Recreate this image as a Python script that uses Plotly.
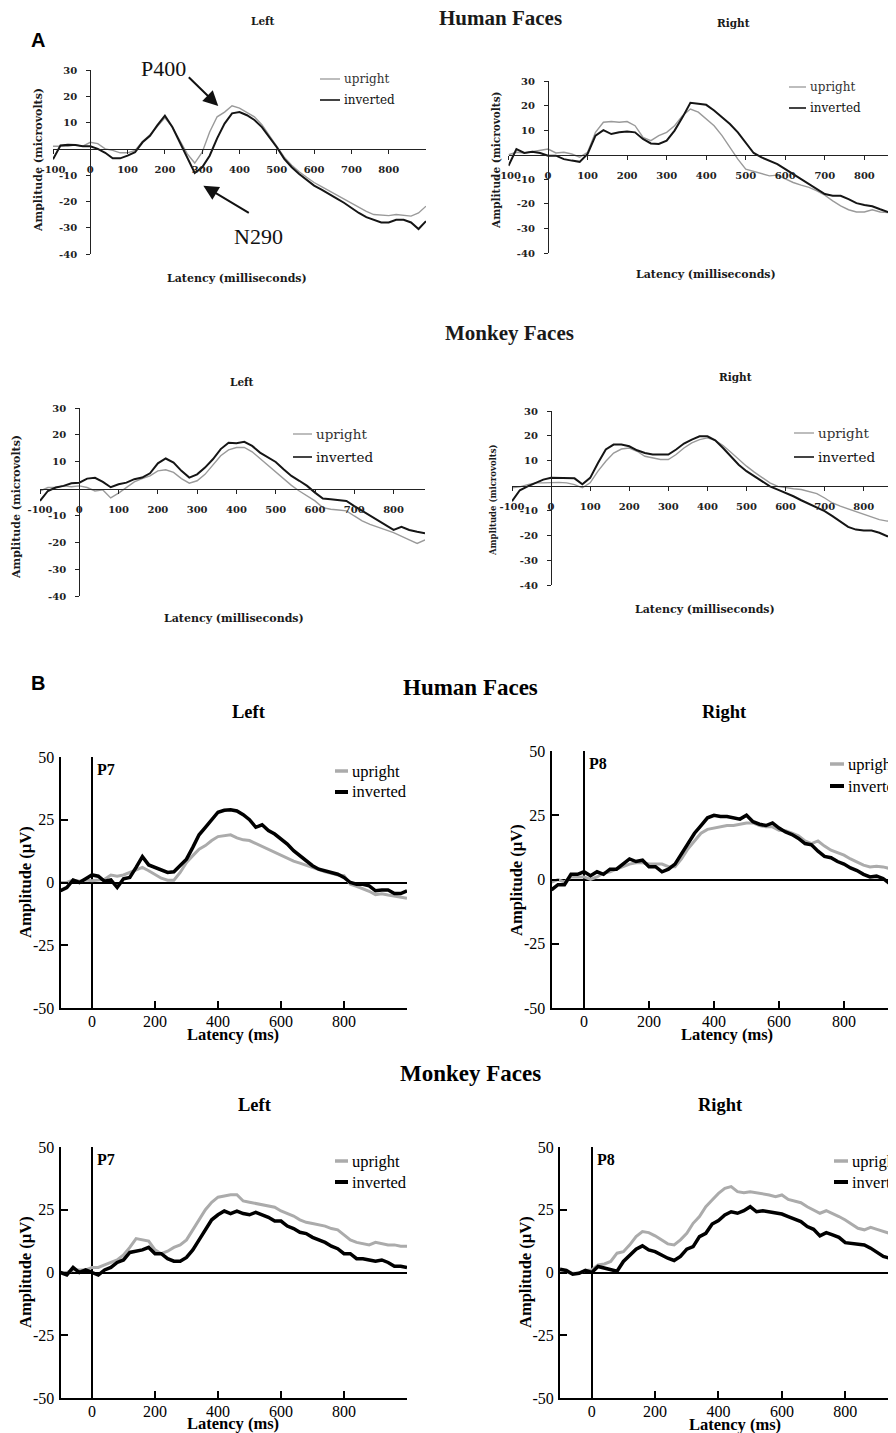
import plotly.graph_objects as go

W, H = 896, 1433
OFF = 8  # the page body adds an 8 px margin around the figure

# ---------------- data (latency in ms, amplitude in microvolts) ----------------
LAT_A_HL = list(range(-100, 901, 20))
LAT_A = list(range(-100, 881, 20))
LAT_B_L = list(range(-100, 1001, 20))
LAT_B_R = list(range(-100, 961, 20))

A_HUMAN_LEFT_UPRIGHT = [1, 1, 1, 1.5, 1, 2.5, 2, 0, -0.6, -1.5,
                        -1.5, -0.6, 2.8, 5.4, 8.6, 11.8, 8.3, 3.2, -1.9, -5.4,
                        -1.3, 6.4, 12.2, 14, 16.4, 15.5, 14, 12.2, 9.2, 5,
                        1.3, -3.2, -6.2, -8.7, -10.8, -12.8, -14.4, -16, -17.6, -19.2,
                        -20.8, -22.4, -23.8, -25, -25.2, -25.4, -25, -25.4, -25.6, -24.4,
                        -21.8]
A_HUMAN_LEFT_INVERTED = [-4, 1.3, 1.6, 1.5, 1, 1, 0, -1.5, -3.6, -3.6,
                         -2.6, -1.3, 2.5, 5, 9, 12.6, 8.3, 2.5, -3.8, -9.2,
                         -7, -2.6, 4, 9.6, 13.5, 14, 12.8, 11, 8.3, 4.5,
                         0.6, -3.8, -7, -9.6, -11.8, -14, -15.5, -17, -18.8, -20.5,
                         -22.5, -24.4, -26, -27, -28, -28, -27, -27, -28, -30.5,
                         -27.5]
A_HUMAN_RIGHT_UPRIGHT = [0, 1, 0.7, 1.2, 1.6, 2.3, 0.7, 1, 0.3, -1,
                         1, 9.1, 13.2, 13.5, 13.2, 13.5, 11.8, 7.1, 5.7, 7.8,
                         9.1, 11.8, 15.9, 18.6, 17.3, 14.6, 11.8, 7.8, 3, -1.8,
                         -5.9, -6.9, -7.9, -8.6, -8.3, -9.9, -11.3, -12.4, -13.3, -14.7,
                         -16.5, -18.8, -20.8, -22.4, -23.3, -23.3, -22.4, -23.3, -23.5, -24.9]
A_HUMAN_RIGHT_INVERTED = [-4.5, 2.3, 0.7, 1.2, 0.7, -0.4, -0.4, -1.8, -2.4, -2.9,
                          0.3, 7.8, 10, 8.4, 9.1, 9.4, 9.1, 6.4, 4.6, 4.4,
                          5.7, 9.8, 15.2, 21.1, 20.7, 20.3, 18, 15.2, 12.5, 9.1,
                          5, 0.7, -1.1, -2.4, -3.8, -5.9, -7.9, -9.9, -12, -14,
                          -16, -16.7, -16.7, -18.1, -19.7, -20.5, -21, -22.2, -23.3, -23.8]
A_MONKEY_LEFT_UPRIGHT = [-0.9, 0.4, 0.4, 1, 0.7, 1, 0.4, -0.9, -0.5, -3.5,
                         -1.7, 0.4, 2.5, 3.7, 4.7, 6.6, 7, 6, 3.7, 2,
                         2.9, 5.3, 8.7, 12.2, 14.4, 15.3, 15.3, 13.7, 11.2, 8.7,
                         6, 3.5, 1.2, -0.9, -2.7, -4.6, -7.1, -7.7, -8, -8.3,
                         -10.2, -12, -13.3, -14.5, -15.4, -16.4, -17.6, -19.1, -20.4, -19.1]
A_MONKEY_LEFT_INVERTED = [-4.6, -0.9, 0.4, 1, 2, 2.2, 3.7, 4, 2.5, 0.5,
                          1.6, 2.2, 3.5, 4.1, 5.7, 9.4, 11.2, 9.7, 6.6, 4.1,
                          5.3, 7.8, 10.9, 14.7, 17.1, 16.9, 17.4, 15.9, 13.4, 11.6,
                          9.9, 7.2, 4.7, 2.9, 1, -1.5, -3.7, -4, -4.2, -4.6,
                          -6.5, -8.3, -10.2, -12, -13.7, -15.4, -14.2, -15.4, -16.1, -16.6]
A_MONKEY_RIGHT_UPRIGHT = [-0.9, -0.5, 0.4, 1.1, 1.1, 1.3, 1.3, 1.1, 0.4, -0.9,
                          1.1, 5.8, 9.8, 13.1, 14.7, 15.1, 13.8, 11.8, 11.1, 10.5,
                          10.5, 12.5, 15.1, 17.2, 18.5, 19.2, 18.2, 16.1, 13.4, 10.5,
                          7.8, 5.4, 3.1, 1.1, -0.3, -0.9, -1.3, -1.6, -2.3, -3.2,
                          -5, -7, -8.3, -9.4, -10.3, -11.3, -12.6, -13.7, -14.3, -13.7]
A_MONKEY_RIGHT_INVERTED = [-6.3, -1.9, -0.3, 1.1, 2.4, 3.1, 3.1, 2.9, 2.9, 0.5,
                           3.1, 9.1, 14.5, 16.5, 16.5, 15.8, 14.2, 13.1, 12.5, 12.5,
                           12.5, 14.5, 16.9, 18.5, 19.8, 19.8, 18.2, 15.1, 11.8, 8.4,
                           5.8, 3.8, 1.7, -0.3, -1.6, -2.9, -4.3, -5.9, -7.4, -8.7,
                           -10.3, -12.3, -14.3, -16.6, -17.7, -18.1, -18.1, -19, -20.4, -20.1]

B_HUMAN_LEFT_UPRIGHT = [0, 0, 1, 0.5, 1, 0.7, 1, 1.3, 3, 2.5,
                        3, 4, 5.3, 6, 4.7, 3.3, 1.7, 0.9, 0.9, 4,
                        8, 10.7, 13.3, 14.7, 16.7, 18.3, 18.7, 19, 17.8, 17,
                        16.7, 15.5, 14.3, 13, 11.8, 10.7, 9.5, 8.5, 7.7, 6.8,
                        6, 5.2, 4.3, 3.7, 3, 2.7, -0.7, -1.5, -2.5, -3.5,
                        -4.9, -4.5, -5, -5.5, -6, -6.3]
B_HUMAN_LEFT_INVERTED = [-3.3, -2, 1, 0, 1.5, 3, 2.5, 0.5, 1, -2,
                         1.5, 2, 6, 10.3, 7, 6, 5, 4, 4.3, 7,
                         9.3, 14, 19, 22, 25, 28, 28.8, 29, 28.5, 27,
                         25, 22, 23, 20.7, 19.3, 17.3, 15.3, 12.7, 10.7, 8.7,
                         6.7, 5.3, 4.7, 4, 3.3, 2, 0, -0.7, -0.7, -1.3,
                         -3.3, -3, -3, -4.4, -4.4, -3.3]
B_HUMAN_RIGHT_UPRIGHT = [-1, 0, -1, 1, 1, 1, 0, 1, 2.5, 3,
                         4, 5, 6, 6.5, 6.5, 6, 6, 6, 5, 5,
                         8, 12, 15, 18, 19.5, 20, 20.5, 21, 21, 21.5,
                         22, 22, 21, 20.5, 20.5, 19.2, 19, 18, 17, 15,
                         14, 15, 13, 11.4, 10.5, 9.5, 8, 6.9, 5.6, 4.9,
                         5.2, 4.9, 4.3, 4.2]
B_HUMAN_RIGHT_INVERTED = [-4, -2, -2, 2, 2, 3, 1.5, 3, 2, 4,
                          4, 6, 8, 7, 7.5, 5, 5, 3, 4, 6,
                          10, 14, 18, 21, 24, 25, 24.5, 24.5, 24, 23.5,
                          25, 22.5, 21.5, 21, 22, 20, 18.5, 17.5, 16, 14,
                          13.5, 11, 9, 8.5, 7, 6, 4.5, 3.5, 2, 1,
                          1.3, 0.4, -1.5, -1]
B_MONKEY_LEFT_UPRIGHT = [0, 0, 1, 1, 1, 2, 2, 3, 4, 5,
                         7, 10, 13.5, 13, 12.5, 9, 7.5, 8.5, 10, 11,
                         13, 17, 21, 25, 28, 30, 30.5, 31, 31, 28.5,
                         28, 27.5, 27, 26.5, 26, 24.5, 23.5, 22.5, 21, 20,
                         19.5, 19, 18.5, 17.5, 17, 15, 13, 12, 11.5, 11,
                         12, 11.5, 11, 11, 10.5, 10.5]
B_MONKEY_LEFT_INVERTED = [0, -1, 2, 0, 1, 0, -1, 1, 2, 4,
                          5, 8, 8.5, 9, 10, 7.5, 7.5, 5.5, 4.5, 4.5,
                          6, 9, 13, 17, 21, 23, 24.5, 23.5, 24.5, 23.5,
                          23, 24, 23, 22, 20.5, 20.5, 18.5, 17.5, 16, 15.5,
                          14, 13, 12, 10.5, 9.5, 7.5, 7.5, 5.5, 5.5, 5,
                          4.5, 5, 4, 2.5, 2.5, 2]
B_MONKEY_RIGHT_UPRIGHT = [0.4, 0, -0.3, -0.3, 0.8, 1, 3, 3.4, 4.4, 7.7,
                          8.3, 11, 14.3, 16.3, 15.9, 14.6, 13, 11.4, 11, 13,
                          15.6, 19.6, 22.3, 26.2, 28.9, 31.5, 33.5, 34.2, 32.2, 31.8,
                          32.2, 31.8, 31.3, 30.9, 30.2, 30.9, 29.1, 28.6, 27.8, 26.2,
                          24.9, 23.6, 24.6, 23.6, 22.3, 20.9, 19.3, 17.6, 17, 18,
                          17.2, 16.3, 15.6, 15.9]
B_MONKEY_RIGHT_INVERTED = [1.3, 0.8, -0.7, -0.3, 0.8, 0, 2.4, 1.7, 1, 0.5,
                           4.4, 7, 9.3, 10.6, 9, 8.3, 7, 5.7, 4.8, 6.4,
                           9.3, 10.3, 14.3, 15.6, 19.3, 20.7, 22.9, 24.2, 23.6, 24.6,
                           26.2, 24.2, 24.6, 24.2, 23.8, 23.3, 22.3, 21.2, 20.3, 18.3,
                           17.2, 14.6, 15.9, 15, 14, 11.9, 11.7, 11.4, 11, 9.7,
                           7.9, 6.4, 5.7, 5]

X_TICKS_A = [-100, 0, 100, 200, 300, 400, 500, 600, 700, 800]
Y_TICKS_A = [-40, -30, -20, -10, 10, 20, 30]
X_TICKS_B = [0, 200, 400, 600, 800]
Y_TICKS_B = [-50, -25, 0, 25, 50]
SERIES_NAMES = ["upright", "inverted"]

# ---------------- geometry helpers (screen px -> paper fraction) ----------------
def fx(p):
    return (p - OFF) / W


def fy(p):
    return 1 - (p - OFF) / H


def labels(vals):
    return [str(v) for v in vals]  # plain hyphen-minus as in the original


SERIF_A = "DejaVu Serif"
SERIF_B = "Liberation Serif"
INK = "#1a1a1a"

PANELS = [
    dict(kind="A", lat=LAT_A_HL, up=A_HUMAN_LEFT_UPRIGHT, inv=A_HUMAN_LEFT_INVERTED,
         box=(53, 426, 70, 254), xmax=900, title=("Left", 263, 21),
         xt=(237, 278), yt=(38, 160, 11), leg=(320, 340, 342, 79, 100, 12)),
    dict(kind="A", lat=LAT_A, up=A_HUMAN_RIGHT_UPRIGHT, inv=A_HUMAN_RIGHT_INVERTED,
         box=(508.5, 896, 81, 253), xmax=880, title=("Right", 733, 23),
         xt=(706, 275), yt=(496, 160, 10.5), leg=(789, 806, 808, 87, 108, 12)),
    dict(kind="A", lat=LAT_A, up=A_MONKEY_LEFT_UPRIGHT, inv=A_MONKEY_LEFT_INVERTED,
         box=(40, 425, 408, 596), xmax=880, title=("Left", 242, 382),
         xt=(234, 618), yt=(17, 507, 11), leg=(293, 312, 314, 434, 457, 13.5)),
    dict(kind="A", lat=LAT_A, up=A_MONKEY_RIGHT_UPRIGHT, inv=A_MONKEY_RIGHT_INVERTED,
         box=(512, 895, 411, 585), xmax=880, title=("Right", 735, 377),
         xt=(705, 610), yt=(493, 500, 8.5), leg=(794, 814, 816, 433, 457, 13.5)),
    dict(kind="B", lat=LAT_B_L, up=B_HUMAN_LEFT_UPRIGHT, inv=B_HUMAN_LEFT_INVERTED,
         box=(60.5, 407, 757, 1008), xmax=1000, title=("Left", 249, 712),
         xt=(233, 1034), yt=(25, 882), leg=(335, 348, 350, 771, 792), elec="P7"),
    dict(kind="B", lat=LAT_B_R, up=B_HUMAN_RIGHT_UPRIGHT, inv=B_HUMAN_RIGHT_INVERTED,
         box=(551.5, 896, 751, 1008), xmax=960, title=("Right", 724, 712),
         xt=(727, 1034), yt=(516, 880), leg=(830, 844, 846, 764, 786), elec="P8"),
    dict(kind="B", lat=LAT_B_L, up=B_MONKEY_LEFT_UPRIGHT, inv=B_MONKEY_LEFT_INVERTED,
         box=(60.5, 407, 1147, 1398), xmax=1000, title=("Left", 255, 1105),
         xt=(233, 1423), yt=(25, 1272), leg=(335, 348, 350, 1161, 1182), elec="P7"),
    dict(kind="B", lat=LAT_B_R, up=B_MONKEY_RIGHT_UPRIGHT, inv=B_MONKEY_RIGHT_INVERTED,
         box=(560, 896, 1147, 1398), xmax=960, title=("Right", 720, 1105),
         xt=(735, 1424), yt=(525, 1272), leg=(834, 848, 850, 1161, 1182), elec="P8"),
]

fig = go.Figure()
layout = dict(width=W, height=H,
              margin=dict(l=0, r=0, t=0, b=0, pad=0, autoexpand=False),
              autosize=False,
              paper_bgcolor="white", plot_bgcolor="rgba(0,0,0,0)", showlegend=False)
annotations = []
shapes = []


def add_text(x, y, s, size, family, bold=False, angle=0, xanchor="center", color=INK):
    annotations.append(dict(
        x=fx(x), y=fy(y), xref="paper", yref="paper",
        text=("<b>%s</b>" % s) if bold else s, showarrow=False,
        font=dict(family=family, size=size, color=color), textangle=angle,
        xanchor=xanchor, yanchor="middle"))


for i, p in enumerate(PANELS, start=1):
    xk = "xaxis" if i == 1 else "xaxis%d" % i
    yk = "yaxis" if i == 1 else "yaxis%d" % i
    xr = "x" if i == 1 else "x%d" % i
    yr = "y" if i == 1 else "y%d" % i
    x0, x1, yt_px, yb_px = p["box"]
    xdom = [fx(x0), fx(x1)]
    ydom = [fy(yb_px), fy(yt_px)]

    if p["kind"] == "A":
        yrange = [-40, 30]
        zero_y = ydom[0] + (ydom[1] - ydom[0]) * (0 - yrange[0]) / (yrange[1] - yrange[0])
        zero_x = xdom[0] + (xdom[1] - xdom[0]) * (0 + 100) / (p["xmax"] + 100)
        tf = dict(family=SERIF_A, size=10, color="#222", weight="bold")
        layout[xk] = dict(domain=xdom, range=[-100, p["xmax"]], anchor="free", position=zero_y,
                          showline=True, linecolor="#222", linewidth=1.3, ticks="outside",
                          ticklen=4, tickcolor="#222", tickvals=X_TICKS_A,
                          ticktext=labels(X_TICKS_A), tickfont=tf, automargin=False,
                          showgrid=False, zeroline=False, fixedrange=True, ticklabelstandoff=7)
        layout[yk] = dict(domain=ydom, range=yrange, anchor="free", position=zero_x,
                          showline=True, linecolor="#222", linewidth=1.3, ticks="outside",
                          ticklen=4, tickcolor="#222", tickvals=Y_TICKS_A,
                          ticktext=labels(Y_TICKS_A), tickfont=tf, automargin=False,
                          showgrid=False, zeroline=False, fixedrange=True, ticklabelstandoff=7)
        fig.add_trace(go.Scatter(x=p["lat"], y=p["up"], mode="lines", name=SERIES_NAMES[0],
                                 line=dict(color="#9a9a9a", width=1.4), xaxis=xr, yaxis=yr))
        fig.add_trace(go.Scatter(x=p["lat"], y=p["inv"], mode="lines", name=SERIES_NAMES[1],
                                 line=dict(color="#151515", width=2), xaxis=xr, yaxis=yr))
        t, tx, ty = p["title"]
        add_text(tx, ty, t, 10.5, SERIF_A, bold=True)
        add_text(p["xt"][0], p["xt"][1], "Latency (milliseconds)", 11, SERIF_A, bold=True)
        add_text(p["yt"][0], p["yt"][1], "Amplitude (microvolts)", p["yt"][2], SERIF_A,
                 bold=True, angle=-90)
        sx0, sx1, tx0, yu, yi, fs = p["leg"]
        shapes.append(dict(type="line", xref="paper", yref="paper", x0=fx(sx0), x1=fx(sx1),
                           y0=fy(yu), y1=fy(yu), line=dict(color="#9a9a9a", width=1.3)))
        shapes.append(dict(type="line", xref="paper", yref="paper", x0=fx(sx0), x1=fx(sx1),
                           y0=fy(yi), y1=fy(yi), line=dict(color="#151515", width=1.6)))
        add_text(tx0, yu, SERIES_NAMES[0], fs, SERIF_A, xanchor="left", color="#333")
        add_text(tx0, yi, SERIES_NAMES[1], fs, SERIF_A, xanchor="left", color="#111")
    else:
        tf = dict(family=SERIF_B, size=16, color="black")
        layout[xk] = dict(domain=xdom, range=[-100, p["xmax"]], anchor=yr,
                          showline=True, linecolor="black", linewidth=2, ticks="inside",
                          ticklen=7, tickwidth=2, tickcolor="black", tickvals=X_TICKS_B,
                          ticktext=labels(X_TICKS_B), automargin=False, ticklabelstandoff=-2,
                          tickfont=tf, showgrid=False, zeroline=True, zerolinecolor="black",
                          zerolinewidth=2, fixedrange=True)
        layout[yk] = dict(domain=ydom, range=[-50, 50], anchor=xr,
                          showline=True, linecolor="black", linewidth=2, ticks="inside",
                          ticklen=7, tickwidth=2, tickcolor="black", tickvals=Y_TICKS_B,
                          ticktext=labels(Y_TICKS_B), automargin=False,
                          tickfont=tf, showgrid=False, zeroline=True, zerolinecolor="black",
                          zerolinewidth=2, fixedrange=True, ticklabelstandoff=1)
        fig.add_trace(go.Scatter(x=p["lat"], y=p["up"], mode="lines", name=SERIES_NAMES[0],
                                 line=dict(color="#ababab", width=3), xaxis=xr, yaxis=yr))
        fig.add_trace(go.Scatter(x=p["lat"], y=p["inv"], mode="lines", name=SERIES_NAMES[1],
                                 line=dict(color="black", width=3.5), xaxis=xr, yaxis=yr))
        t, tx, ty = p["title"]
        add_text(tx, ty, t, 18.5, SERIF_B, bold=True, color="black")
        add_text(p["xt"][0], p["xt"][1], "Latency (ms)", 16.5, SERIF_B, bold=True, color="black")
        add_text(p["yt"][0], p["yt"][1], "Amplitude (µV)", 16.5, SERIF_B, bold=True,
                 angle=-90, color="black")
        annotations.append(dict(x=0, y=45, xref=xr, yref=yr, text="<b>%s</b>" % p["elec"],
                                showarrow=False, xanchor="left", yanchor="middle", xshift=3,
                                font=dict(family=SERIF_B, size=16, color="black")))
        sx0, sx1, tx0, yu, yi = p["leg"]
        shapes.append(dict(type="line", xref="paper", yref="paper", x0=fx(sx0), x1=fx(sx1),
                           y0=fy(yu), y1=fy(yu), line=dict(color="#ababab", width=3.5)))
        shapes.append(dict(type="line", xref="paper", yref="paper", x0=fx(sx0), x1=fx(sx1),
                           y0=fy(yi), y1=fy(yi), line=dict(color="black", width=4)))
        add_text(tx0, yu, SERIES_NAMES[0], 16.5, SERIF_B, xanchor="left", color="black")
        add_text(tx0, yi, SERIES_NAMES[1], 16.5, SERIF_B, xanchor="left", color="black")

# section headings and panel letters
add_text(500, 18, "Human Faces", 21, SERIF_B, bold=True)
add_text(509, 333, "Monkey Faces", 21, SERIF_B, bold=True)
add_text(470, 687, "Human Faces", 23, SERIF_B, bold=True, color="black")
add_text(470, 1073, "Monkey Faces", 23, SERIF_B, bold=True, color="black")
add_text(38, 40, "A", 20, "Liberation Sans", bold=True, color="black")
add_text(38.5, 683, "B", 20, "Liberation Sans", bold=True, color="black")

# component labels with arrows (panel A, human left)
add_text(163, 68, "P400", 22, SERIF_B, color="#111")
add_text(258, 237, "N290", 22, SERIF_B, color="#111")
annotations.append(dict(x=343, y=16.3, ax=260, ay=27.8, xref="x", yref="y", axref="x",
                        ayref="y", text="", showarrow=True, arrowhead=2, arrowsize=1.5,
                        arrowwidth=2, arrowcolor="#111"))
annotations.append(dict(x=303, y=-14, ax=429, ay=-24.7, xref="x", yref="y", axref="x",
                        ayref="y", text="", showarrow=True, arrowhead=2, arrowsize=1.5,
                        arrowwidth=2, arrowcolor="#111"))

layout["annotations"] = annotations
layout["shapes"] = shapes
fig.update_layout(**layout)
fig.write_html("out.html")
